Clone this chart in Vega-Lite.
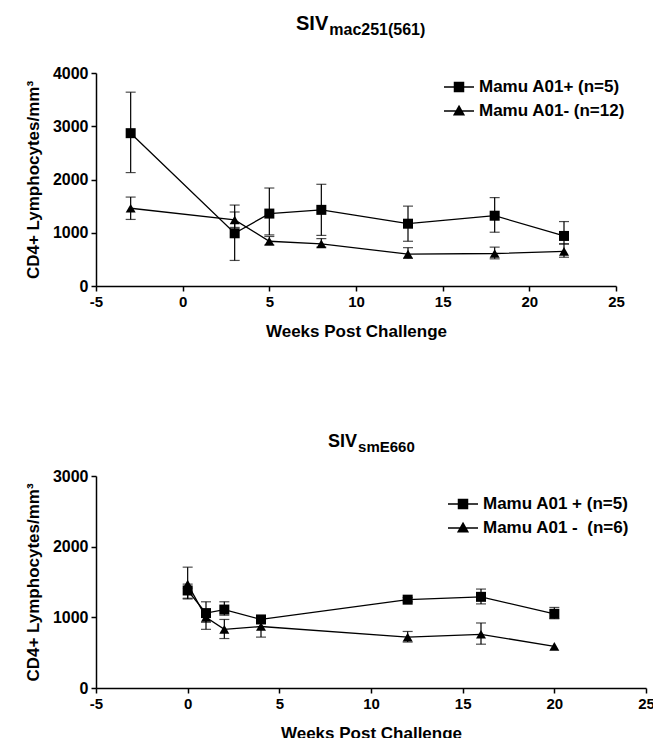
{
  "$schema": "https://vega.github.io/schema/vega-lite/v6.json",
  "padding": {"left": 24, "top": 14, "right": 0, "bottom": 2},
  "background": "white",
  "spacing": 190,
  "bounds": "flush",
  "resolve": {"scale": {"shape": "independent"}, "legend": {"shape": "independent"}},
  "config": {
    "view": {"stroke": null},
    "font": "Liberation Sans",
    "axis": {
      "grid": false,
      "domainColor": "black",
      "domainWidth": 1.5,
      "tickColor": "black",
      "tickWidth": 1.5,
      "tickSize": 5,
      "labelColor": "black",
      "labelFont": "Liberation Sans",
      "labelFontWeight": "bold",
      "labelFontSize": 15,
      "labelPadding": 3,
      "titleColor": "black",
      "titleFont": "Liberation Sans",
      "titleFontWeight": "bold",
      "titleFontSize": 17
    },
    "axisX": {"titlePadding": 14, "labelFlush": false},
    "axisY": {"titlePadding": 10, "labelFontSize": 16},
    "legend": {
      "labelFont": "Liberation Sans",
      "labelFontWeight": "bold",
      "labelFontSize": 17,
      "labelColor": "black",
      "padding": 0,
      "labelOffset": 4,
      "symbolSize": 900
    }
  },
  "vconcat": [
    {
      "width": 520,
      "height": 213,
      "data": {"values": [
        {"group": "Mamu A01+ (n=5)", "week": -3, "mean": 2870, "lo": 2130, "hi": 3640},
        {"group": "Mamu A01+ (n=5)", "week": 3, "mean": 990, "lo": 480, "hi": 1520},
        {"group": "Mamu A01+ (n=5)", "week": 5, "mean": 1360, "lo": 960, "hi": 1840},
        {"group": "Mamu A01+ (n=5)", "week": 8, "mean": 1430, "lo": 950, "hi": 1910},
        {"group": "Mamu A01+ (n=5)", "week": 13, "mean": 1170, "lo": 840, "hi": 1500},
        {"group": "Mamu A01+ (n=5)", "week": 18, "mean": 1320, "lo": 1010, "hi": 1660},
        {"group": "Mamu A01+ (n=5)", "week": 22, "mean": 940, "lo": 790, "hi": 1210},
        {"group": "Mamu A01- (n=12)", "week": -3, "mean": 1460, "lo": 1250, "hi": 1670},
        {"group": "Mamu A01- (n=12)", "week": 3, "mean": 1240, "lo": 1100, "hi": 1390},
        {"group": "Mamu A01- (n=12)", "week": 5, "mean": 840, "lo": 770, "hi": 930},
        {"group": "Mamu A01- (n=12)", "week": 8, "mean": 790, "lo": 730, "hi": 890},
        {"group": "Mamu A01- (n=12)", "week": 13, "mean": 600, "lo": 520, "hi": 720},
        {"group": "Mamu A01- (n=12)", "week": 18, "mean": 610, "lo": 510, "hi": 730},
        {"group": "Mamu A01- (n=12)", "week": 22, "mean": 650, "lo": 540, "hi": 790}
      ]},
      "layer": [
        {
          "transform": [{"filter": "datum.lo != null"}],
          "mark": {"type": "errorbar", "ticks": {"size": 10}, "color": "black", "thickness": 1.2},
          "encoding": {
            "x": {"field": "week", "type": "quantitative", "scale": {"domain": [-5, 25], "nice": false}, "axis": {"values": [-5, 0, 5, 10, 15, 20, 25], "labelExpr": "datum.value < 0 ? '-' + (-datum.value) : '' + datum.value"}, "title": "Weeks Post Challenge"},
            "y": {"field": "lo", "type": "quantitative", "scale": {"domain": [0, 4000], "nice": false}, "axis": {"values": [0, 1000, 2000, 3000, 4000], "labelExpr": "'' + datum.value"}, "title": "CD4+ Lymphocytes/mm³"},
            "y2": {"field": "hi"}
          }
        },
        {
          "mark": {"type": "line", "color": "black", "strokeWidth": 1.3},
          "encoding": {
            "x": {"field": "week", "type": "quantitative", "title": "Weeks Post Challenge"},
            "y": {"field": "mean", "type": "quantitative", "title": "CD4+ Lymphocytes/mm³"},
            "detail": {"field": "group"}
          }
        },
        {
          "transform": [{"filter": "datum.group == 'Mamu A01+ (n=5)'"}],
          "mark": {"type": "point", "filled": true, "color": "black", "opacity": 1, "size": 100, "shape": "square"},
          "encoding": {
            "x": {"field": "week", "type": "quantitative", "title": "Weeks Post Challenge"},
            "y": {"field": "mean", "type": "quantitative", "title": "CD4+ Lymphocytes/mm³"}
          }
        },
        {
          "transform": [{"filter": "datum.group == 'Mamu A01- (n=12)'"}],
          "mark": {"type": "point", "filled": true, "color": "black", "opacity": 1, "size": 100, "shape": "triangle-up"},
          "encoding": {
            "x": {"field": "week", "type": "quantitative", "title": "Weeks Post Challenge"},
            "y": {"field": "mean", "type": "quantitative", "title": "CD4+ Lymphocytes/mm³"}
          }
        },
        {
          "mark": {"type": "point", "filled": false, "color": "black", "strokeWidth": 1.5, "opacity": 0, "size": 900},
          "encoding": {
            "x": {"field": "week", "type": "quantitative", "title": "Weeks Post Challenge"},
            "y": {"field": "mean", "type": "quantitative", "title": "CD4+ Lymphocytes/mm³"},
            "shape": {"field": "group", "type": "nominal",
              "scale": {"domain": ["Mamu A01+ (n=5)", "Mamu A01- (n=12)"], "range": [
                "M-1,0H1M-0.3,-0.27H0.3M-0.3,-0.18H0.3M-0.3,-0.09H0.3M-0.3,0.09H0.3M-0.3,0.18H0.3M-0.3,0.27H0.3M-0.3,-0.3H0.3V0.3H-0.3Z",
                "M-1,0H1M-0.04,-0.26H0.04M-0.09,-0.17H0.09M-0.14,-0.08H0.14M-0.24,0.09H0.24M-0.28,0.17H0.28M0,-0.32L0.32,0.25H-0.32Z"]},
              "legend": {"title": null, "orient": "none", "legendX": 347, "legendY": -2, "rowPadding": -5,
                "symbolStrokeColor": "black", "symbolFillColor": "black", "symbolStrokeWidth": 1.5, "symbolOpacity": 1,
                "encode": {"symbols": {"update": {"stroke": {"value": "black"}, "strokeWidth": {"value": 1.5}, "fill": {"value": "black"}, "opacity": {"value": 1}}}}}}
          }
        },
        {
          "data": {"values": [{"t": "SIV"}]},
          "mark": {"type": "text", "align": "right", "baseline": "alphabetic", "fontSize": 20, "fontWeight": "bold", "font": "Liberation Sans", "color": "black"},
          "encoding": {
            "x": {"datum": 8.4, "type": "quantitative", "title": "Weeks Post Challenge"},
            "y": {"datum": 4807, "type": "quantitative", "title": "CD4+ Lymphocytes/mm³"},
            "text": {"field": "t"}
          }
        },
        {
          "data": {"values": [{"t": "mac251(561)"}]},
          "mark": {"type": "text", "align": "left", "baseline": "alphabetic", "fontSize": 16, "fontWeight": "bold", "font": "Liberation Sans", "color": "black", "dx": 1},
          "encoding": {
            "x": {"datum": 8.4, "type": "quantitative", "title": "Weeks Post Challenge"},
            "y": {"datum": 4714, "type": "quantitative", "title": "CD4+ Lymphocytes/mm³"},
            "text": {"field": "t"}
          }
        }
      ]
    },
    {
      "width": 550,
      "height": 212,
      "data": {"values": [
        {"group": "Mamu A01 + (n=5)", "week": 0, "mean": 1380, "lo": 1260, "hi": 1470},
        {"group": "Mamu A01 + (n=5)", "week": 1, "mean": 1060, "lo": 930, "hi": 1220},
        {"group": "Mamu A01 + (n=5)", "week": 2, "mean": 1110, "lo": 1030, "hi": 1220},
        {"group": "Mamu A01 + (n=5)", "week": 4, "mean": 970, "lo": 920, "hi": 1020},
        {"group": "Mamu A01 + (n=5)", "week": 12, "mean": 1250, "lo": 1220, "hi": 1280},
        {"group": "Mamu A01 + (n=5)", "week": 16, "mean": 1290, "lo": 1190, "hi": 1400},
        {"group": "Mamu A01 + (n=5)", "week": 20, "mean": 1050, "lo": 980, "hi": 1140},
        {"group": "Mamu A01 -\u00a0\u00a0(n=6)", "week": 0, "mean": 1470, "lo": 1270, "hi": 1710},
        {"group": "Mamu A01 -\u00a0\u00a0(n=6)", "week": 1, "mean": 1000, "lo": 830, "hi": 1100},
        {"group": "Mamu A01 -\u00a0\u00a0(n=6)", "week": 2, "mean": 830, "lo": 700, "hi": 970},
        {"group": "Mamu A01 -\u00a0\u00a0(n=6)", "week": 4, "mean": 870, "lo": 720, "hi": 1000},
        {"group": "Mamu A01 -\u00a0\u00a0(n=6)", "week": 12, "mean": 720, "lo": 650, "hi": 800},
        {"group": "Mamu A01 -\u00a0\u00a0(n=6)", "week": 16, "mean": 760, "lo": 620, "hi": 920},
        {"group": "Mamu A01 -\u00a0\u00a0(n=6)", "week": 20, "mean": 590, "lo": null, "hi": null}
      ]},
      "layer": [
        {
          "transform": [{"filter": "datum.lo != null"}],
          "mark": {"type": "errorbar", "ticks": {"size": 10}, "color": "black", "thickness": 1.2},
          "encoding": {
            "x": {"field": "week", "type": "quantitative", "scale": {"domain": [-5, 25], "nice": false}, "axis": {"values": [-5, 0, 5, 10, 15, 20, 25], "labelExpr": "datum.value < 0 ? '-' + (-datum.value) : '' + datum.value"}, "title": "Weeks Post Challenge"},
            "y": {"field": "lo", "type": "quantitative", "scale": {"domain": [0, 3000], "nice": false}, "axis": {"values": [0, 1000, 2000, 3000], "labelExpr": "'' + datum.value"}, "title": "CD4+ Lymphocytes/mm³"},
            "y2": {"field": "hi"}
          }
        },
        {
          "mark": {"type": "line", "color": "black", "strokeWidth": 1.3},
          "encoding": {
            "x": {"field": "week", "type": "quantitative", "title": "Weeks Post Challenge"},
            "y": {"field": "mean", "type": "quantitative", "title": "CD4+ Lymphocytes/mm³"},
            "detail": {"field": "group"}
          }
        },
        {
          "transform": [{"filter": "datum.group == 'Mamu A01 + (n=5)'"}],
          "mark": {"type": "point", "filled": true, "color": "black", "opacity": 1, "size": 100, "shape": "square"},
          "encoding": {
            "x": {"field": "week", "type": "quantitative", "title": "Weeks Post Challenge"},
            "y": {"field": "mean", "type": "quantitative", "title": "CD4+ Lymphocytes/mm³"}
          }
        },
        {
          "transform": [{"filter": "datum.group != 'Mamu A01 + (n=5)'"}],
          "mark": {"type": "point", "filled": true, "color": "black", "opacity": 1, "size": 100, "shape": "triangle-up"},
          "encoding": {
            "x": {"field": "week", "type": "quantitative", "title": "Weeks Post Challenge"},
            "y": {"field": "mean", "type": "quantitative", "title": "CD4+ Lymphocytes/mm³"}
          }
        },
        {
          "mark": {"type": "point", "filled": false, "color": "black", "strokeWidth": 1.5, "opacity": 0, "size": 900},
          "encoding": {
            "x": {"field": "week", "type": "quantitative", "title": "Weeks Post Challenge"},
            "y": {"field": "mean", "type": "quantitative", "title": "CD4+ Lymphocytes/mm³"},
            "shape": {"field": "group", "type": "nominal",
              "scale": {"domain": ["Mamu A01 + (n=5)", "Mamu A01 -\u00a0\u00a0(n=6)"], "range": [
                "M-1,0H1M-0.3,-0.27H0.3M-0.3,-0.18H0.3M-0.3,-0.09H0.3M-0.3,0.09H0.3M-0.3,0.18H0.3M-0.3,0.27H0.3M-0.3,-0.3H0.3V0.3H-0.3Z",
                "M-1,0H1M-0.04,-0.26H0.04M-0.09,-0.17H0.09M-0.14,-0.08H0.14M-0.24,0.09H0.24M-0.28,0.17H0.28M0,-0.32L0.32,0.25H-0.32Z"]},
              "legend": {"title": null, "orient": "none", "legendX": 351, "legendY": 12, "rowPadding": -6,
                "symbolStrokeColor": "black", "symbolFillColor": "black", "symbolStrokeWidth": 1.5, "symbolOpacity": 1,
                "encode": {"symbols": {"update": {"stroke": {"value": "black"}, "strokeWidth": {"value": 1.5}, "fill": {"value": "black"}, "opacity": {"value": 1}}}}}}
          }
        },
        {
          "data": {"values": [{"t": "SIV"}]},
          "mark": {"type": "text", "align": "right", "baseline": "alphabetic", "fontSize": 18, "fontWeight": "bold", "font": "Liberation Sans", "color": "black"},
          "encoding": {
            "x": {"datum": 9.24, "type": "quantitative", "title": "Weeks Post Challenge"},
            "y": {"datum": 3410, "type": "quantitative", "title": "CD4+ Lymphocytes/mm³"},
            "text": {"field": "t"}
          }
        },
        {
          "data": {"values": [{"t": "smE660"}]},
          "mark": {"type": "text", "align": "left", "baseline": "alphabetic", "fontSize": 15, "fontWeight": "bold", "font": "Liberation Sans", "color": "black", "dx": 1},
          "encoding": {
            "x": {"datum": 9.24, "type": "quantitative", "title": "Weeks Post Challenge"},
            "y": {"datum": 3340, "type": "quantitative", "title": "CD4+ Lymphocytes/mm³"},
            "text": {"field": "t"}
          }
        }
      ]
    }
  ]
}
